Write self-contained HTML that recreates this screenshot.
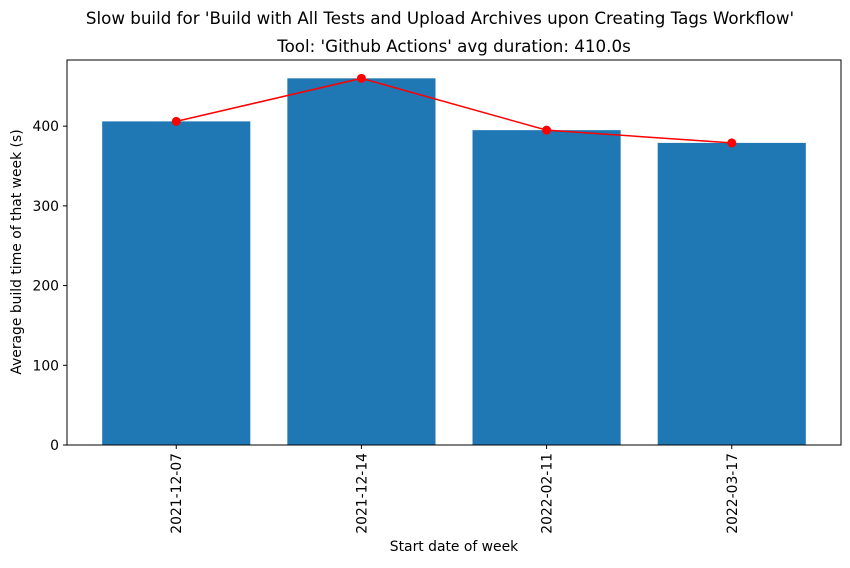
<!DOCTYPE html>
<html><head><meta charset="utf-8"><style>
body{margin:0;background:#fff;width:850px;height:564px;overflow:hidden;font-family:"DejaVu Sans",sans-serif}
svg text{font-family:"DejaVu Sans",sans-serif;fill:#000}
</style></head><body>
<svg id="chart" width="850" height="564">
<text x="440" y="24" font-size="16.7" text-anchor="middle">Slow build for 'Build with All Tests and Upload Archives upon Creating Tags Workflow'</text>
<text x="454" y="52" font-size="16.7" text-anchor="middle">Tool: 'Github Actions' avg duration: 410.0s</text>
<text x="454" y="551" font-size="13.9" text-anchor="middle">Start date of week</text>
<text transform="translate(21,252) rotate(-90)" font-size="13.9" text-anchor="middle">Average build time of that week (s)</text>
<g id="marks"></g>
<rect x="67" y="60" width="774" height="385" fill="none" stroke="#000" stroke-width="1"/>
</svg>
<script>
const categories=["2021-12-07","2021-12-14","2022-02-11","2022-03-17"];
const values=[406,460,395,379];
const yTicks=[0,100,200,300,400];
const L=67,R=841,T=60,B=445,yMax=Math.max(...values)*1.05;
const xMin=-0.59,xMax=categories.length-1+0.59;
const xs=i=>L+(i-xMin)/(xMax-xMin)*(R-L);
const ys=v=>B-v/yMax*(B-T);
const g=document.getElementById('marks');
const NS="http://www.w3.org/2000/svg";
function mk(t,a){const e=document.createElementNS(NS,t);for(const k in a)e.setAttribute(k,a[k]);g.appendChild(e);return e;}
const bw=0.8*(xs(1)-xs(0));
values.forEach((v,i)=>{
 const r=mk('rect',{x:xs(i)-bw/2,y:ys(v),width:bw,height:B-ys(v),fill:'#1f77b4'});
 
 
});
const pl=mk('polyline',{points:values.map((v,i)=>xs(i)+','+ys(v)).join(' '),fill:'none',stroke:'#ff0000','stroke-width':1.5});


values.forEach((v,i)=>{
 const c=mk('circle',{cx:xs(i),cy:ys(v),r:4.5,fill:'#ff0000'});
 
 
});
yTicks.forEach(t=>{
 const y=ys(t);
 const l=mk('line',{x1:L-4,x2:L,y1:y,y2:y,stroke:'#000'});
 
 
 const tx=mk('text',{x:L-8,y:y+5,'font-size':13.9,'text-anchor':'end'});
 tx.textContent=t;
 
 
});
categories.forEach((c,i)=>{
 const x=xs(i);
 const l=mk('line',{x1:x,x2:x,y1:B,y2:B+4,stroke:'#000'});
 
 
 const tx=mk('text',{transform:`translate(${x+5},${B+8}) rotate(-90)`,'font-size':13.9,'text-anchor':'end'});
 tx.textContent=c;
 
 
});
</script>
</body></html>
